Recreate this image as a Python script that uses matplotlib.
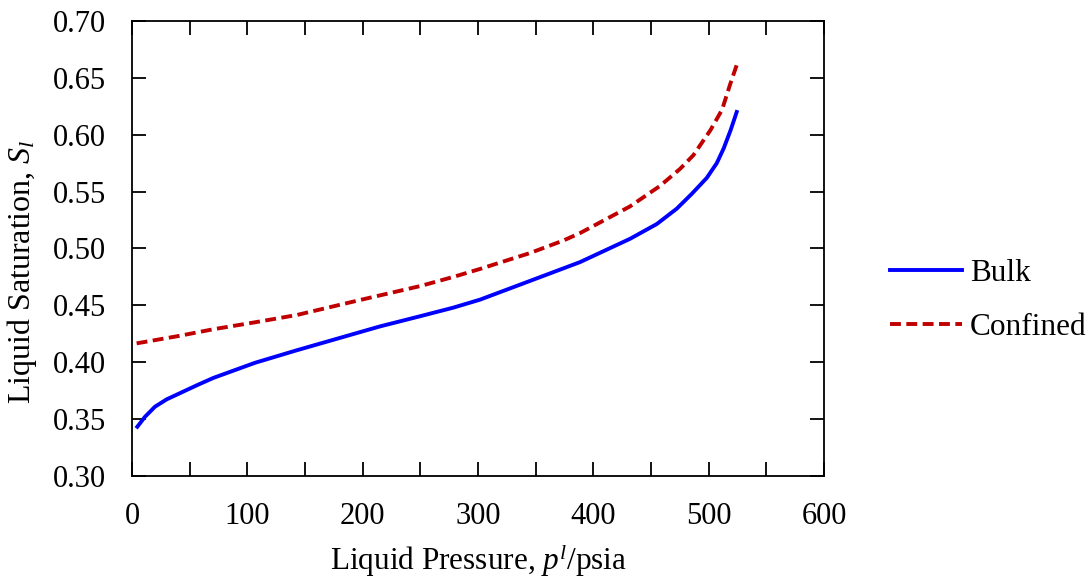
import matplotlib
matplotlib.use("Agg")
import matplotlib.pyplot as plt

plt.rcParams['font.family'] = ['Liberation Serif', 'DejaVu Serif']
plt.rcParams['mathtext.fontset'] = 'custom'
plt.rcParams['mathtext.rm'] = 'Liberation Serif'
plt.rcParams['mathtext.it'] = 'Liberation Serif:italic'

bulk_p = [4.6, 11.3, 19.9, 30.1, 44.5, 56.1, 70.5, 106.6, 142.8, 178.9, 215, 250, 278.6, 301.7,
          345.1, 388.4, 431.8, 455, 472.3, 485.3, 498.3, 507, 513, 519, 524.3]
bulk_s = [0.3433, 0.3521, 0.3609, 0.3674, 0.3742, 0.3797, 0.3862, 0.3995, 0.4105, 0.4210, 0.4315,
          0.4405, 0.4480, 0.4550, 0.4715, 0.4880, 0.5085, 0.5215, 0.5350, 0.5480, 0.5620, 0.5750,
          0.5880, 0.6040, 0.6200]

conf_p = [4, 40, 70.5, 106, 142.8, 197.7, 250, 278.6, 301.7, 345.1, 374, 388.4, 431.8, 457.8,
          475.2, 486.7, 501.5, 511.6, 518.5, 524.3]
conf_s = [0.4166, 0.4230, 0.4290, 0.4350, 0.4415, 0.4547, 0.4670, 0.4750, 0.4820, 0.4960, 0.5070,
          0.5135, 0.5370, 0.5550, 0.5700, 0.5820, 0.6040, 0.6220, 0.6440, 0.6613]

fig = plt.figure(figsize=(10.92, 5.78), dpi=100)
ax = fig.add_axes([0.1209, 0.1765, 0.6337, 0.7872])

ax.plot(bulk_p, bulk_s, color='#0000ff', lw=2.8, label='Bulk', solid_joinstyle='round')
ax.plot(conf_p, conf_s, color='#c00000', lw=2.8, ls=(0, (2.8, 1.4)), label='Confined',
        dash_joinstyle='round')

ax.set_xlim(0, 600)
ax.set_ylim(0.30, 0.70)
ax.set_xticks(range(0, 601, 100))
ax.set_xticks(range(0, 601, 50), minor=True)
ax.set_yticks([0.30 + 0.05 * i for i in range(9)])
ax.set_yticklabels([f"{0.30 + 0.05 * i:.2f}" for i in range(9)])
ax.tick_params(which='both', direction='in', top=True, right=True, labelsize=22, width=1.3, length=10)
ax.tick_params(axis='y', pad=19)
ax.tick_params(axis='x', pad=19)
for s in ax.spines.values():
    s.set_linewidth(1.3)

ax.set_xlabel('Liquid Pressure, $p^l$/psia', fontsize=22.5)
ax.set_ylabel('Liquid Saturation, $S_l$', fontsize=23, va='center')
ax.xaxis.set_label_coords(0.5, -0.145)
ax.yaxis.set_label_coords(-0.159, 0.45)

fig.legend(loc='center left', bbox_to_anchor=(0.815, 0.4795), frameon=False, fontsize=22.5,
           handlelength=2.3, handletextpad=0.26, labelspacing=0.8, borderpad=0, borderaxespad=0)

fig.savefig('out.png', dpi=100)
